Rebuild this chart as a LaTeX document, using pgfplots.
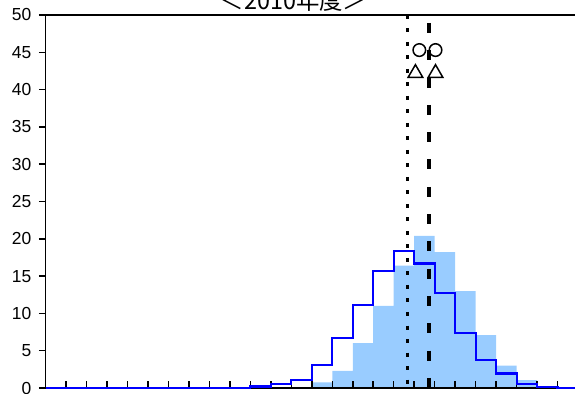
\documentclass[border=0pt]{standalone}
\usepackage{fontspec}
\setmainfont{Liberation Sans}
\newfontfamily\cjk{Noto Sans CJK JP}
\usepackage{pgfplots}
\pgfplotsset{compat=1.18}
\definecolor{barblue}{RGB}{153,204,255}
\begin{document}
\begin{tikzpicture}
\begin{axis}[
  name=ax,
  set layers=standard,
  scale only axis,
  width=529.5bp, height=373bp,
  xmin=0, xmax=25.85, ymin=0, ymax=50,
  axis x line*=box, axis y line*=left,
  axis line style={line width=1.6bp, black},
  xtick={1,...,25}, xticklabels={},
  xtick pos=left,
  ytick={0,5,...,50},
  tick align=inside,
  major tick length=6.5bp,
  tick style={line width=1.5bp, black},
  ytick style={xshift=-6.5bp},
  yticklabel style={inner sep=0pt, xshift=-14bp, font=\fontsize{17.5}{20}\selectfont},
  /pgf/number format/assume math mode=true,
  clip=false,
]
% histogram bars
\addplot[on layer=axis background, const plot mark left, fill=barblue, draw=none]
  coordinates {(12,0) (13,0.75) (14,2.3) (15,6.0) (16,11.0) (17,16.4) (18,20.4) (19,18.2) (20,13.0) (21,7.1) (22,3.0) (23,1.05) (24,0)} \closedcycle;
% step line
\addplot[on layer=axis foreground, const plot mark left, blue, line width=2.2bp]
  coordinates {(0,0) (10,0.2) (11,0.5) (12,1.05) (13,3.1) (14,6.7) (15,11.1) (16,15.7) (17,18.4) (18,16.7) (19,12.7) (20,7.4) (21,3.7) (22,1.95) (23,0.5) (24,0.1) (25,0) (25.85,0)};
% vertical lines
\addplot[on layer=axis foreground, black, line width=2.7bp, dash pattern=on 4bp off 9.5bp]
  coordinates {(17.66,50) (17.66,0)};
\addplot[on layer=axis foreground, black, line width=4.5bp, dash pattern=on 10bp off 17.3bp, dash phase=19.3bp]
  coordinates {(18.72,50) (18.72,0)};
% markers
\addplot[on layer=axis foreground, only marks, mark=*, mark size=6.3bp, mark options={draw=black, fill=white, line width=1.5bp}]
  coordinates {(18.25,45.3) (19.04,45.3)};
\addplot[on layer=axis foreground, only marks, mark=triangle*, mark size=8.5bp, mark options={draw=black, fill=white, line width=1.5bp}]
  coordinates {(18.06,42.2) (19.04,42.2)};
\node[anchor=base, inner sep=0pt, font=\cjk\fontsize{23.5}{26}\selectfont] at ([yshift=5bp]rel axis cs:0.4684,1) {＜2010年度＞};
\end{axis}
\pgfresetboundingbox
\path ([xshift=-45.5bp,yshift=-6bp]ax.south west) rectangle ([yshift=15bp]ax.north east);
\end{tikzpicture}
\end{document}
